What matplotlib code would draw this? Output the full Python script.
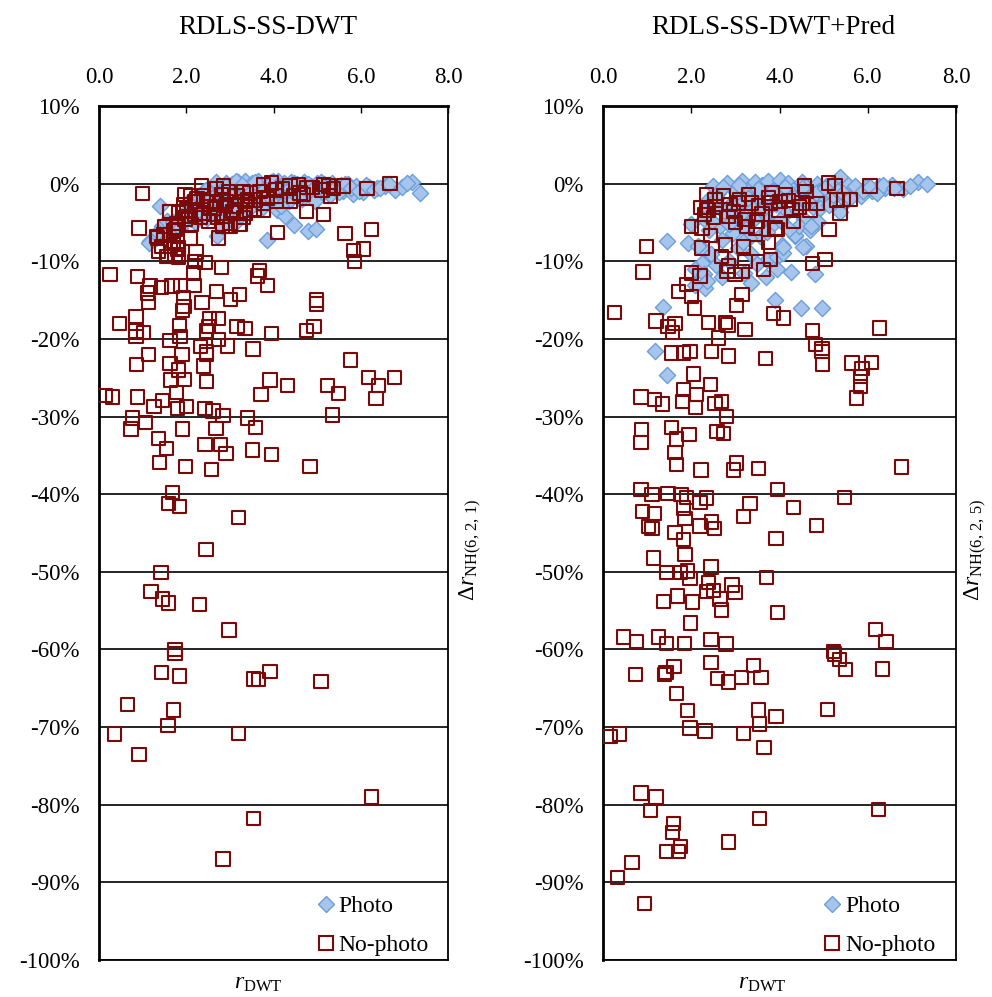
import matplotlib
matplotlib.use("Agg")
import matplotlib.pyplot as plt
from matplotlib.lines import Line2D

plt.rcParams['font.family'] = ['Liberation Serif', 'DejaVu Serif']
plt.rcParams['mathtext.fontset'] = 'custom'
plt.rcParams['mathtext.rm'] = 'Liberation Serif'
plt.rcParams['mathtext.it'] = 'Liberation Serif:italic'
plt.rcParams['mathtext.bf'] = 'Liberation Serif:bold'

titles = ["RDLS-SS-DWT", "RDLS-SS-DWT+Pred"]
ylabels = [r"$\Delta r_{\mathrm{NH(6,\,2,\,1)}}$", r"$\Delta r_{\mathrm{NH(6,\,2,\,5)}}$"]
xlabel = r"$r_{\mathrm{DWT}}$"
series_names = ["Photo", "No-photo"]
x_ticks = [0, 2, 4, 6, 8]
x_ticklabels = ["0.0", "2.0", "4.0", "6.0", "8.0"]
y_ticks = [10, 0, -10, -20, -30, -40, -50, -60, -70, -80, -90, -100]
y_ticklabels = ["10%", "0%", "-10%", "-20%", "-30%", "-40%", "-50%", "-60%", "-70%", "-80%", "-90%", "-100%"]

# ---------------- Left panel: Photo ----------------
left_photo_x = [1.17, 1.30, 1.15, 1.40, 1.44, 1.35, 1.55, 1.60, 1.70, 1.86, 1.90, 2.00, 2.10, 2.15, 2.24, 2.30,
                2.35, 2.47, 2.50, 2.55, 2.62, 2.70, 2.75, 2.81, 2.85, 2.90, 2.95, 3.00, 3.04, 3.10, 3.12, 3.18,
                3.20, 3.25, 3.30, 3.35, 3.40, 3.45, 3.50, 3.55, 3.60, 3.65, 3.70, 3.75, 3.80, 3.84, 3.86, 3.90,
                3.95, 4.00, 4.05, 4.07, 4.10, 4.15, 4.20, 4.25, 4.27, 4.30, 4.35, 4.40, 4.45, 4.47, 4.50, 4.55,
                4.60, 4.65, 4.70, 4.75, 4.80, 4.85, 4.90, 4.98, 5.00, 5.05, 5.10, 5.15, 5.20, 5.30, 5.35, 5.45,
                5.55, 5.60, 5.70, 5.83, 5.90, 6.06, 6.20, 6.37, 6.55, 6.79, 7.17, 7.36, 2.05, 2.40, 2.60, 3.15,
                3.62, 4.12, 2.20, 2.88,
                2.45, 2.58, 2.68, 2.78, 2.92, 3.02, 3.14, 3.22, 3.28, 3.38, 3.48, 3.58, 3.68, 3.78, 3.88, 3.98,
                4.08, 4.18, 4.28, 4.38, 4.48, 4.58, 4.68, 4.78, 4.88, 4.95, 5.08, 5.18, 5.25, 5.40, 5.50, 5.65,
                5.78, 5.95, 6.12, 6.30, 6.45, 6.65, 6.95, 7.05]
left_photo_y = [-7.4, -7.0, -7.6, -2.9, -5.5, -6.2, -4.8, -6.3, -5.0, -5.7, -4.2, -3.6, -4.5, -2.8, -3.2, -2.0,
                -3.9, -4.4, -1.5, -2.6, -0.5, -6.8, -3.0, -5.5, -1.2, 0.1, -2.2, -3.5, 0.0, -1.0, -5.1, 0.2,
                -2.4, -4.0, -0.6, 0.3, -1.8, -3.1, 0.1, -0.9, -2.3, 0.3, -1.4, -3.0, 0.0, -7.2, -0.5, -2.0,
                0.2, -1.1, -2.6, -3.4, 0.3, -0.4, -1.6, 0.1, -4.2, -0.8, -2.2, 0.2, -0.2, -5.3, -1.3, 0.0,
                -0.6, -2.0, 0.2, -1.0, -6.1, -0.3, -1.6, -5.8, 0.1, -0.7, -1.2, 0.0, -0.4, -1.5, 0.1, -0.6,
                -0.2, -0.9, -0.1, -1.3, -0.3, -1.1, -0.4, -0.6, -0.3, -0.8, 0.2, -1.2, -2.4, -1.0, -3.8, -2.7,
                -1.8, -0.9, -5.0, -4.1,
                -0.8, -1.9, 0.2, -2.4, -0.3, -1.6, 0.3, -3.3, -0.2, -2.6, -1.1, 0.2, -2.0, -0.8, -1.5, 0.4,
                -0.3, -2.9, -1.0, -0.6, 0.1, -1.8, -0.4, 0.0, -0.8, -2.2, 0.2, -0.9, -0.2, -0.5, -1.1, 0.0,
                -0.6, -0.9, -0.2, -0.8, -0.5, -0.1, -0.4, 0.1]

# ---------------- Left panel: No-photo ----------------
left_nophoto_x = [0.99, 0.92, 5.64, 6.25, 4.09, 5.83, 6.06, 5.85, 6.67, 6.14, 5.14, 4.75, 0.25, 0.88, 2.81, 3.68,
                  3.64, 3.86, 2.43, 2.20, 2.16, 2.09, 1.17, 1.11, 1.44, 1.67, 1.87, 2.18, 1.13, 1.93, 1.95, 1.92,
                  2.36, 2.70, 3.02, 3.22, 4.98, 4.98, 0.85, 0.47, 0.85, 1.02, 0.85, 1.84, 1.86, 1.63, 2.53, 2.74,
                  2.51, 2.47, 3.16, 3.35, 3.96, 4.76, 4.93, 2.74, 2.94, 2.33, 2.47, 3.53, 1.13, 1.90,
                  0.86, 1.63, 1.82, 1.96, 1.64, 2.39, 2.47, 2.47, 5.76, 3.92, 4.32, 3.71, 5.24, 5.49, 6.18, 6.41,
                  6.77, 6.35, 0.14, 0.31, 0.89, 1.26, 1.46, 1.77, 1.80, 2.01, 2.43, 2.61, 2.84, 3.41, 3.58, 5.36,
                  0.77, 1.06, 0.73, 1.92, 2.68, 1.36, 1.55, 2.43, 2.78, 2.91, 3.52, 3.96, 1.38, 1.99, 2.58, 4.84,
                  1.68, 1.59, 1.84, 3.19, 2.45, 1.42, 1.19, 1.45, 1.59, 2.30, 2.98, 1.74, 1.74, 1.44, 1.84, 3.54,
                  3.65, 3.92, 5.09, 0.66, 1.70, 1.58, 0.35, 3.20, 0.92, 6.25, 3.54, 2.84,
                  1.97, 2.35, 2.39, 2.70, 2.85, 2.81, 2.97, 3.16, 3.31, 3.46, 3.77, 3.96, 4.04, 3.69, 4.38, 4.57,
                  4.61, 4.46, 5.14, 5.26, 5.37, 5.30, 5.60, 2.09, 2.20, 2.47, 2.70, 2.93, 3.12, 3.35, 3.58, 3.77,
                  4.07, 4.38, 4.69, 1.63, 1.82, 2.01, 2.20, 2.39, 2.62, 2.85, 3.08, 3.31, 3.46, 3.77, 4.07, 1.51,
                  1.70, 1.78, 1.97, 2.12, 2.32, 2.51, 2.74, 3.00, 3.24, 1.32, 1.44, 1.70, 1.82, 1.74, 1.55, 1.82,
                  1.36, 1.61, 1.91, 2.06, 1.76, 1.49, 1.34, 1.64, 1.80, 1.57, 1.82, 2.10, 2.22, 2.71, 2.83, 3.02,
                  3.21, 3.06, 3.36, 4.76, 5.11, 2.55, 2.90, 3.40, 3.85, 4.20, 4.90, 1.95, 2.25, 2.65, 3.55]
left_nophoto_y = [-1.3, -5.7, -6.4, -5.9, -6.3, -8.6, -8.4, -10.0, 0.0, -0.6, -4.0, -3.6, -11.7, -12.0, -10.8, -11.2,
                  -11.9, -13.1, -10.2, -10.0, -11.5, -7.1, -13.2, -14.1, -13.4, -13.2, -13.1, -13.1, -15.3, -14.7, -15.8, -16.3,
                  -15.3, -13.9, -14.9, -14.3, -15.0, -15.5, -17.1, -18.0, -19.0, -19.2, -19.7, -18.3, -19.7, -20.2, -17.4, -17.4,
                  -18.4, -19.0, -18.4, -18.7, -19.3, -18.9, -18.4, -20.1, -20.9, -21.0, -21.7, -21.3, -22.0, -22.0,
                  -23.3, -23.2, -24.0, -25.2, -25.3, -23.5, -25.5, -22.0, -22.7, -25.3, -26.0, -27.2, -26.0, -27.0, -25.0, -26.0,
                  -25.0, -27.7, -27.3, -27.5, -27.5, -28.7, -27.9, -26.9, -29.0, -28.7, -29.0, -29.3, -29.9, -30.2, -31.4, -29.8,
                  -30.2, -30.8, -31.6, -31.6, -31.5, -32.8, -34.1, -33.6, -33.6, -34.8, -34.3, -34.9, -35.9, -36.4, -36.8, -36.4,
                  -39.8, -41.2, -41.6, -43.0, -47.1, -50.1, -52.5, -53.5, -54.0, -54.2, -57.5, -60.0, -60.5, -63.0, -63.4, -63.8,
                  -63.9, -62.8, -64.1, -67.1, -67.8, -69.8, -70.9, -70.8, -73.5, -79.0, -81.8, -87.0,
                  -1.4, -0.3, -1.6, -0.6, -0.3, -1.4, -1.0, -1.6, -1.0, -1.2, -0.1, 0.1, -0.8, -1.0, -0.3, -0.1,
                  -1.2, -1.6, -0.1, -0.3, -0.6, -1.6, -0.3, -1.6, -2.3, -2.3, -2.5, -2.3, -2.9, -2.3, -2.1, -2.5,
                  -1.6, -2.3, -1.4, -3.6, -3.8, -3.4, -4.0, -3.8, -4.0, -4.2, -3.8, -4.4, -3.4, -3.4, -2.3, -5.5,
                  -6.1, -5.1, -4.6, -5.3, -4.4, -4.9, -7.0, -5.5, -5.3, -6.8, -8.1, -7.4, -8.3, -9.4, -9.4, -9.2,
                  -8.7, -3.6, -3.6, -4.2, -5.9, -6.6, -7.0, -8.1, -8.5, -9.4, -9.5, -7.0, -8.8, -4.4, -5.5, -5.1,
                  -5.3, -3.6, -3.8, -0.5, -0.8, -3.0, -2.8, -2.0, -1.9, -0.6, -0.5, -2.7, -1.9, -3.2, -3.3]

# ---------------- Right panel: Photo ----------------
right_photo_x = [1.18, 1.44, 1.37, 1.44, 1.93, 2.28, 2.24, 2.09, 2.28, 2.31, 2.09, 2.45, 2.40, 2.30, 2.40, 2.50,
                 2.60, 2.65, 2.70, 2.75, 2.80, 2.90, 2.95, 3.00, 3.05, 3.10, 3.15, 3.20, 3.25, 3.30, 3.35, 3.40,
                 3.45, 3.50, 3.55, 3.60, 3.65, 3.71, 3.75, 3.80, 3.85, 3.89, 3.94, 3.95, 4.00, 4.05, 4.10, 4.15,
                 4.20, 4.26, 4.30, 4.35, 4.40, 4.49, 4.50, 4.55, 4.59, 4.60, 4.70, 4.75, 4.81, 4.85, 4.88, 4.90,
                 4.96, 5.00, 5.05, 5.15, 5.25, 5.37, 5.40, 5.50, 5.55, 5.65, 5.75, 5.85, 5.95, 6.10, 6.25, 6.40,
                 6.55, 6.81, 7.15, 7.34, 4.09, 4.09, 4.54, 4.35, 5.37, 2.00, 2.15, 2.55, 2.85, 3.20, 3.48, 3.70,
                 2.62, 3.02, 3.30, 4.44, 4.70, 2.35, 2.70,
                 2.35, 2.48, 2.58, 2.72, 2.85, 2.98, 3.08, 3.18, 3.28, 3.42, 3.52, 3.62, 3.72, 3.82, 3.92, 4.02,
                 4.12, 4.22, 4.32, 4.42, 4.52, 4.62, 4.72, 4.82, 4.92, 5.02, 5.12, 5.22, 5.32, 5.45, 5.60, 5.72,
                 5.90, 6.05, 6.20, 6.35, 6.60, 6.95, 3.35, 3.95]
right_photo_y = [-21.6, -24.6, -15.9, -7.4, -7.7, -8.5, -10.2, -11.0, -11.7, -13.5, -13.1, -9.0, -6.0, -4.5, -2.0, -0.3,
                 -1.2, -5.5, -7.2, -3.5, 0.1, -2.6, -6.3, -1.0, -8.3, -4.0, 0.3, -2.2, -5.8, -0.5, -9.0, -3.2,
                 0.2, -1.7, -6.8, -0.2, -4.3, -9.8, 0.4, -2.7, -5.2, -15.0, -9.4, -0.6, 0.5, -7.9, -1.5, -3.8,
                 0.1, -11.4, -0.8, -6.7, -2.4, -16.0, 0.2, -4.6, -8.0, -0.4, -1.3, -3.0, -11.7, 0.0, -4.9, -0.9,
                 -16.0, -2.0, -0.3, -1.4, 0.2, 0.9, -0.7, -2.3, -0.2, -1.0, -0.5, -1.6, -0.4, -0.9, -0.3, -0.6,
                 -0.2, -0.7, 0.2, 0.0, -8.9, -8.1, -8.1, -6.6, -3.7, -5.2, -8.0, -10.5, -10.0, -11.5, -10.3, -12.0,
                 -3.0, -4.8, -7.0, -5.5, -6.0, -12.5, -12.0,
                 -3.0, -4.8, -1.8, -0.4, -5.2, -3.6, -0.2, -7.5, -1.9, -4.5, -0.7, -3.3, -6.2, -1.0, -2.6, -4.7,
                 -0.4, -5.8, -1.8, -3.5, -0.6, -2.2, -5.5, -1.2, -3.1, -0.6, -2.8, -1.5, -0.9, -1.2, -1.8, -0.3,
                 -1.0, -0.4, -1.2, -0.2, -0.5, -0.3, -12.8, -11.0]

# ---------------- Right panel: No-photo ----------------
right_nophoto_x = [0.99, 0.91, 0.26, 1.20, 1.47, 1.63, 1.57, 2.01, 2.24, 2.24, 2.35, 2.39, 2.43, 2.77, 2.69, 2.01,
                   2.20, 1.90, 1.71, 2.01, 2.07, 2.81, 2.99, 3.15, 2.84, 3.22, 3.18, 3.49, 3.75, 3.79, 3.63, 3.15,
                   3.03, 3.22, 2.39, 2.77, 2.83, 2.61, 3.86, 4.09, 4.75, 4.81, 4.96, 4.75, 5.03, 5.12, 6.26, 3.90,
                   3.94, 4.32, 3.49, 3.45, 3.22, 3.26, 2.84, 5.37, 4.69, 6.05, 6.66, 5.11, 5.26, 5.30, 5.60, 4.56,
                   4.60, 4.13, 4.01, 3.83, 3.79, 3.30, 3.37, 3.52, 3.07, 2.88, 2.73, 2.54, 2.35, 2.22, 3.98, 4.28,
                   4.51,
                   1.56, 1.82, 1.97, 2.46, 2.84, 3.68, 4.96, 4.98, 5.64, 5.87, 6.08, 5.83, 5.83, 5.75, 2.05, 2.43,
                   1.82, 2.12, 0.86, 1.16, 1.35, 1.80, 2.09, 2.54, 2.69, 2.80, 0.88, 0.86, 1.56, 1.67, 1.63, 1.66,
                   1.95, 2.58, 2.73, 2.22, 2.96, 3.03, 3.52, 6.76, 0.86, 1.11, 1.47, 1.77, 1.90, 2.35, 2.20, 3.96,
                   3.33, 3.18, 4.32, 4.84, 5.47, 0.89, 1.16, 1.82, 1.86, 1.03, 1.11, 1.63, 1.82, 2.20, 2.46, 2.52,
                   3.92, 1.86, 1.14, 1.44, 1.75, 1.92, 1.97, 2.45, 3.71, 2.39, 2.35, 2.50, 2.65, 2.92, 2.99, 1.69,
                   1.37, 2.03, 2.69, 3.96, 1.99, 6.17, 6.41, 0.46, 0.76, 1.26, 1.44, 1.84, 2.45, 2.79, 5.22,
                   5.24, 5.36, 5.50, 6.34, 0.74, 1.39, 1.61, 1.43, 2.45, 2.59, 2.84, 3.14, 3.41, 3.58, 1.66, 1.92,
                   3.52, 3.92, 5.09, 1.97, 2.31, 3.19, 3.54, 0.16, 0.37, 3.65, 0.86, 1.20, 1.07, 6.24, 1.60, 1.58,
                   1.75, 1.44, 1.71, 3.54, 2.84, 0.66, 0.33, 0.94,
                   2.30, 2.55, 2.95, 3.10, 3.60, 3.75, 4.20, 4.45, 5.45, 2.50, 3.00, 4.85]
right_nophoto_y = [-8.1, -11.4, -16.6, -17.7, -18.4, -18.0, -19.2, -5.5, -5.7, -8.3, -1.4, -3.4, -6.7, -7.9, -9.4, -11.5,
                   -11.9, -13.0, -13.9, -14.5, -16.0, -11.3, -11.7, -11.3, -10.6, -10.0, -8.1, -8.3, -7.6, -9.8, -11.1, -14.3,
                   -15.7, -18.8, -17.9, -17.9, -18.2, -19.9, -16.7, -17.3, -18.9, -20.7, -21.2, -10.3, -9.8, -5.9, -18.6, -5.7,
                   -5.9, -4.9, -4.9, -5.7, -4.6, -5.5, -4.2, -3.8, -3.4, -0.3, -0.6, 0.1, -0.3, -2.1, -2.0, -0.3,
                   -1.0, -1.4, -2.3, -1.2, -2.5, -1.4, -2.5, -2.9, -2.5, -2.7, -1.6, -2.1, -3.4, -3.1, -3.4, -3.4,
                   -2.5,
                   -21.8, -21.8, -21.6, -21.6, -22.2, -22.5, -21.6, -23.3, -23.1, -23.8, -23.0, -24.8, -26.1, -27.6, -24.5, -25.9,
                   -26.5, -27.2, -27.5, -27.8, -28.4, -28.1, -28.8, -28.3, -28.1, -30.0, -31.7, -33.3, -31.4, -32.9, -34.6, -36.2,
                   -32.3, -31.9, -32.2, -36.9, -36.9, -36.0, -36.7, -36.5, -39.4, -40.0, -39.9, -40.0, -40.4, -40.5, -41.1, -39.4,
                   -41.2, -42.9, -41.7, -44.0, -40.4, -42.2, -42.5, -41.8, -43.1, -44.2, -44.4, -44.9, -45.8, -44.1, -43.6, -44.4,
                   -45.7, -47.8, -48.2, -50.1, -50.1, -49.9, -50.9, -49.4, -50.7, -51.4, -52.5, -52.4, -53.5, -51.7, -52.7, -53.1,
                   -53.8, -53.9, -54.9, -55.2, -56.6, -57.4, -59.0, -58.4, -59.0, -58.4, -59.2, -59.2, -58.7, -59.3, -60.3,
                   -60.6, -61.3, -62.6, -62.5, -63.2, -63.2, -62.2, -63.0, -61.7, -63.7, -64.2, -63.6, -62.1, -63.6, -65.7, -67.9,
                   -67.8, -68.6, -67.7, -70.1, -70.5, -70.8, -69.6, -71.2, -70.9, -72.6, -78.5, -79.0, -80.7, -80.6, -82.4, -83.6,
                   -85.4, -86.0, -86.0, -81.8, -84.8, -87.4, -89.4, -92.7,
                   -4.0, -3.0, -3.6, -2.0, -3.9, -1.8, -2.2, -3.0, -2.0, -4.4, -5.0, -2.6]

panels = [
    (left_photo_x, left_photo_y, left_nophoto_x, left_nophoto_y),
    (right_photo_x, right_photo_y, right_nophoto_x, right_nophoto_y),
]

photo_face = '#a7c4ec'
photo_edge = '#6c9edc'
nophoto_edge = '#7a0a0a'

W, H = 992, 997
fig = plt.figure(figsize=(W / 100, H / 100), dpi=100)

axes_px = [(99, 448), (603, 956)]
top_px, bot_px = 106, 960
title_cx = [268, 773]
ylabel_cx = [471, 976]
xlabel_cx = [258, 762]

for i, (px_x, px_y, np_x, np_y) in enumerate(panels):
    l, r = axes_px[i]
    ax = fig.add_axes([l / W, 1 - bot_px / H, (r - l) / W, (bot_px - top_px) / H])
    ax.scatter(px_x, px_y, marker='D', s=68, facecolor=photo_face, edgecolor=photo_edge,
               linewidths=1.0, zorder=3, label=series_names[0])
    ax.scatter(np_x, np_y, marker='s', s=92, facecolor='none', edgecolor=nophoto_edge,
               linewidths=1.5, zorder=4, label=series_names[1])
    ax.set_xlim(0, 8)
    ax.set_ylim(-100, 10)
    ax.xaxis.tick_top()
    ax.set_xticks(x_ticks)
    ax.set_xticklabels(x_ticklabels)
    ax.set_yticks(y_ticks)
    ax.set_yticklabels(y_ticklabels)
    ax.tick_params(axis='x', direction='in', length=5, width=1, pad=13, labelsize=16.5, top=True, bottom=False)
    ax.tick_params(axis='y', length=0, pad=14, labelsize=16.5)
    ax.yaxis.grid(True, color='black', linewidth=1.2, zorder=1)
    ax.set_axisbelow(True)
    for sp in ax.spines.values():
        sp.set_linewidth(1.3)
        sp.set_color('black')
    ax.spines['left'].set_linewidth(2.0)
    ax.spines['top'].set_linewidth(2.0)

    handles = [
        Line2D([], [], marker='D', linestyle='none', markersize=8.2, markerfacecolor=photo_face,
               markeredgecolor=photo_edge, markeredgewidth=1.0),
        Line2D([], [], marker='s', linestyle='none', markersize=9.6, markerfacecolor='none',
               markeredgecolor=nophoto_edge, markeredgewidth=1.5),
    ]
    ax.legend(handles, series_names, loc='lower left', bbox_to_anchor=(0.575, -0.012), frameon=False,
              fontsize=17, handletextpad=0.05, labelspacing=0.75, handlelength=1.0, borderaxespad=0.2)

    fig.text(title_cx[i] / W, 1 - 28 / H, titles[i], ha='center', va='center', fontsize=19.5)
    fig.text(ylabel_cx[i] / W, 1 - 550 / H, ylabels[i], ha='center', va='center', rotation=90, fontsize=17)
    fig.text(xlabel_cx[i] / W, 1 - 983 / H, xlabel, ha='center', va='center', fontsize=17)

fig.savefig('out.png', dpi=100)
